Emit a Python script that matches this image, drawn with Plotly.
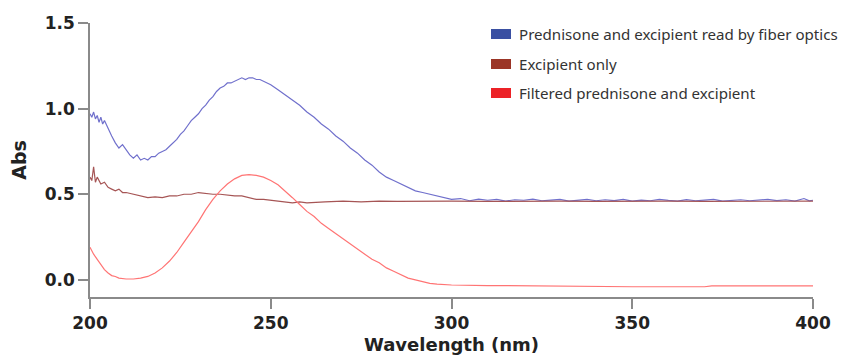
import plotly.graph_objects as go

# ---------------- data ----------------
blue_x = [200, 200.5, 201, 201.5, 202, 202.5, 203, 203.5, 204, 205, 206, 207, 208, 209, 210, 211, 212, 213, 214,
          215, 216, 217, 218, 219, 220, 221, 222, 223, 224, 225, 226, 227, 228, 229, 230, 231, 232, 233, 234,
          235, 236, 237, 238, 239, 240, 241, 242, 243, 244, 245, 246, 247, 248, 249, 250, 252, 254, 256, 258,
          260, 262, 264, 266, 268, 270, 272, 274, 276, 278, 280, 282, 284, 286, 288, 290, 292, 294, 296, 298,
          300, 302.5, 305, 307.5, 310, 312.5, 315, 317.5, 320, 322.5, 325, 327.5, 330, 332.5, 335, 337.5, 340,
          342.5, 345, 347.5, 350, 352.5, 355, 357.5, 360, 362.5, 365, 367.5, 370, 372.5, 375, 377.5, 380, 382.5,
          385, 387.5, 390, 392.5, 395, 397.5, 399, 400]
blue_y = [0.97, 0.95, 0.98, 0.94, 0.96, 0.92, 0.95, 0.91, 0.93, 0.88, 0.84, 0.80, 0.77, 0.79, 0.76, 0.73, 0.71, 0.73,
          0.70, 0.71, 0.70, 0.72, 0.72, 0.74, 0.75, 0.76, 0.78, 0.80, 0.82, 0.85, 0.87, 0.90, 0.93, 0.95, 0.97,
          1.00, 1.02, 1.05, 1.07, 1.10, 1.12, 1.13, 1.15, 1.15, 1.16, 1.17, 1.18, 1.17, 1.18, 1.18, 1.17, 1.17,
          1.16, 1.15, 1.14, 1.11, 1.08, 1.05, 1.02, 0.98, 0.95, 0.91, 0.88, 0.84, 0.81, 0.77, 0.74, 0.70, 0.67,
          0.63, 0.60, 0.58, 0.56, 0.54, 0.52, 0.51, 0.50, 0.49, 0.48, 0.47, 0.475, 0.462, 0.472, 0.465, 0.47,
          0.46, 0.468, 0.465, 0.472, 0.462, 0.466, 0.47, 0.46, 0.465, 0.47, 0.462, 0.468, 0.463, 0.47, 0.46,
          0.466, 0.462, 0.47, 0.464, 0.46, 0.468, 0.462, 0.466, 0.47, 0.46, 0.465, 0.468, 0.462, 0.466, 0.47,
          0.463, 0.468, 0.46, 0.475, 0.462, 0.465]

brown_x = [200, 200.5, 201, 201.5, 202, 203, 204, 205, 206, 207, 208, 209, 210, 212, 214, 216, 218, 220, 222, 224,
           226, 228, 230, 232, 234, 236, 238, 240, 242, 244, 246, 248, 250, 252, 254, 256, 258, 260, 265, 270,
           275, 280, 285, 290, 295, 300, 310, 320, 330, 340, 350, 360, 370, 380, 390, 400]
brown_y = [0.60, 0.58, 0.66, 0.57, 0.60, 0.56, 0.57, 0.54, 0.53, 0.52, 0.53, 0.51, 0.51, 0.50, 0.49, 0.48, 0.485,
           0.48, 0.49, 0.49, 0.50, 0.50, 0.51, 0.505, 0.50, 0.50, 0.495, 0.49, 0.49, 0.48, 0.47, 0.47, 0.465,
           0.46, 0.455, 0.45, 0.455, 0.45, 0.455, 0.46, 0.455, 0.46, 0.458, 0.46, 0.462, 0.46, 0.458, 0.46,
           0.46, 0.458, 0.46, 0.46, 0.458, 0.46, 0.46, 0.46]

red_x = [200, 201, 202, 203, 204, 205, 206, 207, 208, 210, 212, 214, 216, 218, 220, 222, 224, 226, 228, 230, 232,
         234, 236, 238, 240, 242, 244, 246, 248, 250, 252, 254, 256, 258, 260, 262, 264, 266, 268, 270, 272, 274,
         276, 278, 280, 282, 284, 286, 288, 290, 292, 294, 296, 300, 310, 320, 330, 340, 350, 360, 370, 372, 380,
         390, 400]
red_y = [0.19, 0.15, 0.12, 0.09, 0.06, 0.04, 0.025, 0.02, 0.01, 0.005, 0.005, 0.01, 0.02, 0.04, 0.07, 0.11, 0.16,
         0.22, 0.28, 0.34, 0.41, 0.47, 0.52, 0.56, 0.59, 0.61, 0.615, 0.61, 0.60, 0.58, 0.555, 0.52, 0.48, 0.44,
         0.40, 0.37, 0.33, 0.30, 0.27, 0.24, 0.21, 0.18, 0.15, 0.12, 0.10, 0.07, 0.05, 0.03, 0.01, 0.0, -0.01,
         -0.02, -0.025, -0.03, -0.033, -0.035, -0.04, -0.04, -0.04, -0.04, -0.04, -0.035, -0.035, -0.035, -0.035]

series_names = ["Prednisone and excipient read by fiber optics", "Excipient only",
                "Filtered prednisone and excipient"]
x_ticks = [200, 250, 300, 350, 400]
y_ticks = [0.0, 0.5, 1.0, 1.5]

# ---------------- figure ----------------
line_colors = ["#7070cc", "#a65555", "#ff7474"]
swatch_colors = ["#3a50a2", "#9b3526", "#ec2227"]

fig = go.Figure()
for xs, ys, c, n in [(blue_x, blue_y, line_colors[0], series_names[0]),
                     (brown_x, brown_y, line_colors[1], series_names[1]),
                     (red_x, red_y, line_colors[2], series_names[2])]:
    fig.add_trace(go.Scatter(x=xs, y=ys, mode="lines", name=n,
                             line=dict(color=c, width=1.2), showlegend=False))

# the page body has an 8px margin, so the figure is drawn 8px in from the window corner
OFF = 8
W, H = 847 - OFF, 356 - OFF
L, R, T, B = 90 - OFF, 34, 23 - OFF, 59
pw, ph = W - L - R, H - T - B

def px_x(p):  # p: pixel in window coordinates
    return (p - OFF - L) / pw

def px_y(p):
    return (H - B - (p - OFF)) / ph

rows = [34, 64, 93]
for name, col, cy in zip(series_names, swatch_colors, rows):
    fig.add_shape(type="rect", xref="paper", yref="paper",
                  x0=px_x(491), x1=px_x(511), y0=px_y(cy + 5), y1=px_y(cy - 5),
                  fillcolor=col, line=dict(width=0))
    fig.add_annotation(xref="paper", yref="paper", x=px_x(517), y=px_y(cy),
                       text=name, showarrow=False, xanchor="left", yanchor="middle",
                       font=dict(family="Noto Sans", size=15.1, color="#333333"))

tick_font = dict(family="DejaVu Sans", size=17, color="#222222")
fig.update_layout(
    width=W, height=H,
    margin=dict(l=L, r=R, t=T, b=B),
    paper_bgcolor="white", plot_bgcolor="white",
    xaxis=dict(range=[200, 400], tickvals=x_ticks, ticktext=["<b>%d</b>" % v for v in x_ticks],
               showline=True, linecolor="#8a8a8a", linewidth=1.5, ticks="outside",
               ticklen=10, tickwidth=1.5, tickcolor="#8a8a8a", showgrid=False, zeroline=False,
               tickfont=tick_font, automargin=False,
               title=dict(text="<b>Wavelength (nm)</b>",
                          font=dict(family="DejaVu Sans", size=18, color="#222222"), standoff=6)),
    yaxis=dict(range=[-0.1, 1.5], tickvals=y_ticks, ticktext=["<b>%.1f</b>" % v for v in y_ticks],
               showline=True, linecolor="#8a8a8a", linewidth=1.5, ticks="outside",
               ticklen=10, tickwidth=1.5, tickcolor="#8a8a8a", showgrid=False, zeroline=False,
               tickfont=tick_font, automargin=False,
               title=dict(text="<b>Abs</b>",
                          font=dict(family="DejaVu Sans", size=19, color="#222222"), standoff=14)),
)
fig.write_html("out.html")
